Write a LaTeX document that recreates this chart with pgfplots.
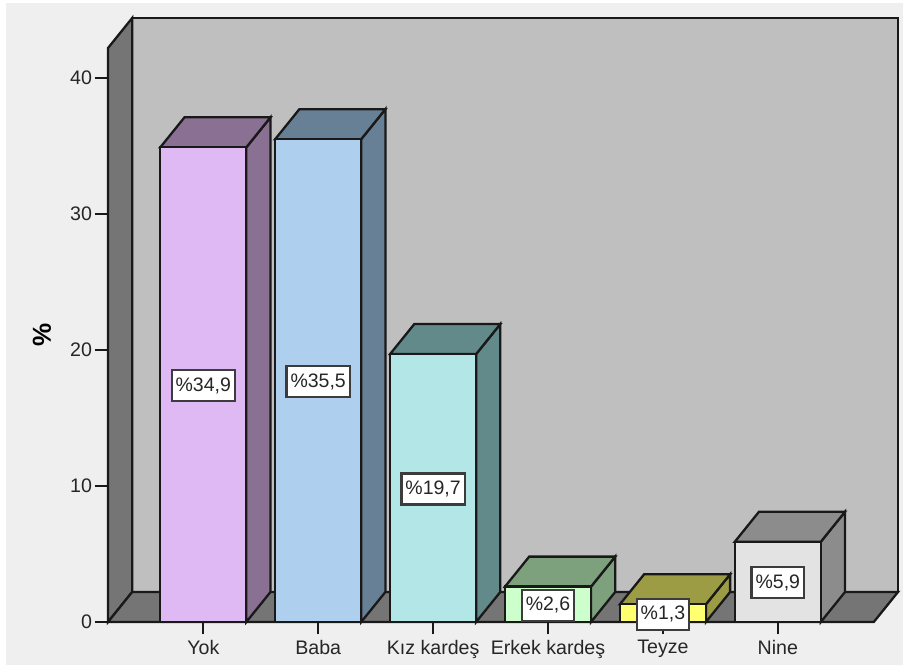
\documentclass[border=0pt]{standalone}
\usepackage{pgfplots}
\pgfplotsset{compat=1.18}
\usepackage{fontspec}
\setmainfont{Liberation Sans}

% Palette: front face and shaded side of each bar, plus the chart frame
\definecolor{pagebg}{HTML}{EFEFEF}
\definecolor{wallback}{HTML}{BFBFBF}
\definecolor{wallside}{HTML}{757575}
\definecolor{yokF}{HTML}{DFB9F3}\definecolor{yokS}{HTML}{8A7092}
\definecolor{babaF}{HTML}{AED0EE}\definecolor{babaS}{HTML}{678096}
\definecolor{kizF}{HTML}{B3E6E6}\definecolor{kizS}{HTML}{638A8A}
\definecolor{erkekF}{HTML}{CDFFCD}\definecolor{erkekS}{HTML}{7DA07D}
\definecolor{teyzeF}{HTML}{FFFF70}\definecolor{teyzeS}{HTML}{9C9C44}
\definecolor{nineF}{HTML}{E3E3E3}\definecolor{nineS}{HTML}{8C8C8C}
\definecolor{inkdark}{HTML}{262626}
\definecolor{labelrule}{HTML}{3C3C3C}

% Oblique depth of the 3-D look, in axis units
\newcommand\depthx{0.2106}
\newcommand\depthy{2.206}
\newcommand\barhalf{0.3743}

% #1 position, #2 value, #3 front colour, #4 side colour, #5 label
\newcommand\threedbar[5]{%
  \pgfmathsetmacro\xl{#1-\barhalf}%
  \pgfmathsetmacro\xr{#1+\barhalf}%
  \pgfmathsetmacro\xlb{\xl+\depthx}%
  \pgfmathsetmacro\xrb{\xr+\depthx}%
  \pgfmathsetmacro\yt{#2+\depthy}%
  \pgfmathsetmacro\ymid{#2/2}%
  \addplot[edge, fill=#4] coordinates {(\xr,0) (\xrb,\depthy) (\xrb,\yt) (\xr,#2)} --cycle;
  \addplot[edge, fill=#4] coordinates {(\xl,#2) (\xlb,\yt) (\xrb,\yt) (\xr,#2)} --cycle;
  \addplot[edge, fill=#3] coordinates {(\xl,0) (\xl,#2) (\xr,#2) (\xr,0)} --cycle;
  \addplot[draw=none, forget plot,
    nodes near coords={#5}, nodes near coords align=center,
    every node near coord/.style={fill=white, draw=labelrule, line width=2.2pt,
      inner xsep=4pt, inner ysep=0pt, minimum height=31pt, text=inkdark, yshift=-1pt,
      font=\fontsize{19.5}{22}\selectfont}]
    coordinates {(#1,\ymid)};
}

\begin{document}
\begin{tikzpicture}[x=1pt,y=1pt,
    edge/.style={draw=black!90, line width=2.3pt, line join=miter, mark=none}]
  \useasboundingbox (0,0) rectangle (903,666);
  \fill[white] (0,0) rectangle (903,666);
  \fill[pagebg] (6,1) rectangle (903,663);
  \begin{axis}[
      at={(108pt,44pt)}, anchor=south west,
      scale only axis, width=790pt, height=604pt,
      xmin=-0.8294, xmax=6.046, ymin=0, ymax=44.41,
      clip=false,
      axis x line*=bottom, axis y line*=left,
      axis line style={draw=none},
      xtick={0,1,2,3,4,5},
      xticklabels={Yok,Baba,Kız kardeş,Erkek kardeş,Teyze,Nine},
      ytick={0,10,20,30,40},
      tick align=outside,
      tickwidth=12.5pt,
      tick style={draw=black!90, line width=2.3pt},
      tick label style={font=\fontsize{19.6}{22}\selectfont, text=inkdark},
      /pgf/number format/assume math mode=true,
      xticklabel style={yshift=-2pt},
      ylabel={\textbf{\%}},
      every axis y label/.style={at={(axis cs:-1.404,21.1)}, rotate=90, anchor=center,
        font=\fontsize{26}{28}\selectfont},
    ]
    % Chart frame: back wall, left wall, floor
    \addplot[edge, fill=wallback] coordinates {(-0.6188,2.206) (-0.6188,44.41) (6.046,44.41) (6.046,2.206)} --cycle;
    \addplot[edge, fill=wallside] coordinates {(-0.8294,0) (-0.8294,42.2) (-0.6188,44.41) (-0.6188,2.206)} --cycle;
    \addplot[edge, fill=wallside] coordinates {(-0.8294,0) (-0.6188,2.206) (6.046,2.206) (5.8354,0)} --cycle;

    \threedbar{0}{34.9}{yokF}{yokS}{\%34,9}
    \threedbar{1}{35.5}{babaF}{babaS}{\%35,5}
    \threedbar{2}{19.7}{kizF}{kizS}{\%19,7}
    \threedbar{3}{2.6}{erkekF}{erkekS}{\%2,6}
    \threedbar{4}{1.3}{teyzeF}{teyzeS}{\%1,3}
    \threedbar{5}{5.9}{nineF}{nineS}{\%5,9}
  \end{axis}
\end{tikzpicture}
\end{document}
